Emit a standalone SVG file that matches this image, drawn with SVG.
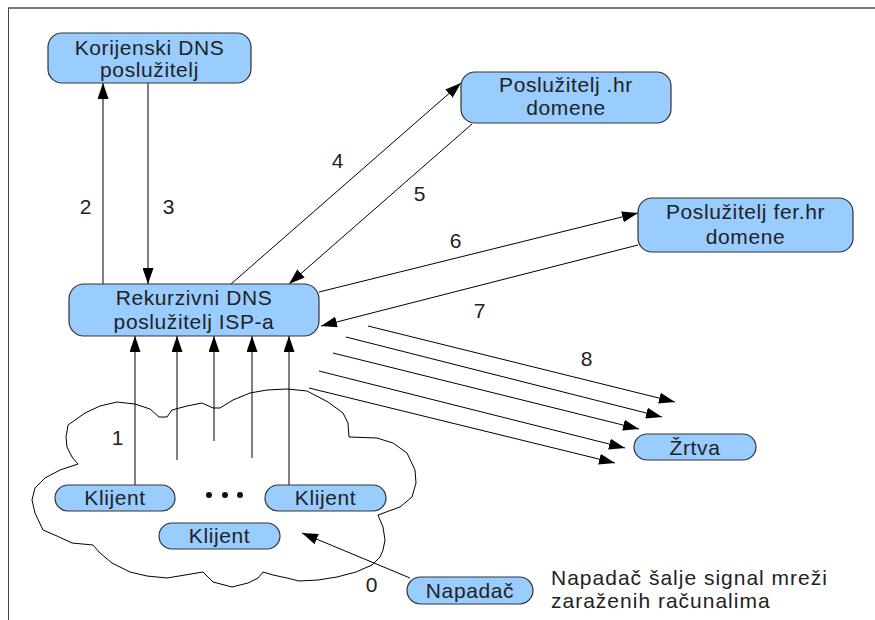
<svg xmlns="http://www.w3.org/2000/svg" width="875" height="620" viewBox="0 0 875 620">
  <style>
    .node { fill: #99ccff; stroke: #333333; stroke-width: 1.2; }
    .lbl { font-family: "Liberation Sans", Arial, sans-serif; font-size: 21px; fill: #222222; letter-spacing: 0.6px; }
    .mid { text-anchor: middle; }
    .edge { stroke: #000000; stroke-width: 1; fill: none; }
    .arr { marker-end: url(#head); }
  </style>
  <defs>
    <marker id="head" markerUnits="userSpaceOnUse" markerWidth="16" markerHeight="11" refX="16" refY="5.5" orient="auto">
      <path d="M0,0 L16,5.5 L0,11 Z" fill="#000000"/>
    </marker>
  </defs>

  <rect width="875" height="620" fill="#ffffff"/>
  <!-- page frame -->
  <rect x="8" y="7" width="867" height="2" fill="#7a7a7a"/>
  <line x1="8.5" y1="8" x2="8.5" y2="620" stroke="#444444" stroke-width="1"/>

  <!-- client network -->
  <g id="network">
    <path class="edge" stroke-linejoin="round" d="M68,425 L85,413 L100,406 L117,402 L135,404 L150,409 L159,417 L167,417 L172,410 L187,406 L202,403 L213,408 L220,408 L233,400 L250,393 L267,390 L287,389 L307,391 L328,402 L343,413 L348,423 L349,437 L377,438 L393,443 L407,453 L415,470 L416,483 L412,497 L400,507 L378,515 L383,527 L385,540 L383,550 L380,557 L372,565 L356,572 L337,577 L318,580 L299,581 L287,578 L273,575 L263,572 L258,578 L248,583 L232,587 L213,582 L203,572 L185,575 L167,578 L147,576 L130,572 L112,563 L100,553 L93,545 L72,543 L57,536 L43,530 L35,513 L32,500 L35,488 L45,478 L60,470 L78,464 L72,457 L67,447 L66,437 Z"/>
  </g>

  <g id="connectors">
    <!-- 2 / 3 -->
    <line class="edge arr" x1="103" y1="284" x2="103" y2="83"/>
    <line class="edge arr" x1="148" y1="83" x2="148" y2="284"/>
    <!-- 4 / 5 -->
    <line class="edge arr" x1="231" y1="284" x2="461" y2="83"/>
    <line class="edge arr" x1="472" y1="124" x2="289" y2="284"/>
    <!-- 6 / 7 -->
    <line class="edge arr" x1="319" y1="292" x2="638" y2="213"/>
    <line class="edge arr" x1="638" y1="245" x2="321" y2="326"/>
    <!-- 1: clients to resolver -->
    <line class="edge arr" x1="135" y1="485" x2="135" y2="336"/>
    <line class="edge arr" x1="177" y1="460" x2="177" y2="336"/>
    <line class="edge arr" x1="214" y1="441" x2="214" y2="336"/>
    <line class="edge arr" x1="252" y1="458" x2="252" y2="336"/>
    <line class="edge arr" x1="289" y1="485" x2="289" y2="336"/>
    <!-- 8: responses towards the victim -->
    <line class="edge arr" x1="368" y1="326" x2="675" y2="402"/>
    <line class="edge arr" x1="346" y1="337" x2="662" y2="417"/>
    <line class="edge arr" x1="333" y1="353" x2="639" y2="429"/>
    <line class="edge arr" x1="319" y1="371" x2="625" y2="448"/>
    <line class="edge arr" x1="309" y1="388" x2="615" y2="463"/>
    <!-- 0: attacker signal -->
    <line class="edge arr" x1="410" y1="578" x2="302" y2="533"/>
  </g>

  <g id="edge-labels" class="lbl mid">
    <text x="118" y="445">1</text>
    <text x="86" y="214">2</text>
    <text x="169" y="214">3</text>
    <text x="338" y="168">4</text>
    <text x="420" y="201">5</text>
    <text x="456" y="248">6</text>
    <text x="480" y="318">7</text>
    <text x="587" y="366">8</text>
    <text x="372" y="592">0</text>
  </g>

  <g id="root-dns">
    <rect class="node" x="48" y="33" width="203" height="50" rx="14"/>
    <text class="lbl mid" x="149.5" y="55">Korijenski DNS</text>
    <text class="lbl mid" x="149.5" y="77">poslužitelj</text>
  </g>

  <g id="hr-dns">
    <rect class="node" x="461" y="72" width="210" height="51" rx="14"/>
    <text class="lbl mid" x="566" y="92">Poslužitelj .hr</text>
    <text class="lbl mid" x="566" y="115">domene</text>
  </g>

  <g id="ferhr-dns">
    <rect class="node" x="638" y="198" width="215" height="54" rx="14"/>
    <text class="lbl mid" x="745.5" y="219">Poslužitelj fer.hr</text>
    <text class="lbl mid" x="745.5" y="244">domene</text>
  </g>

  <g id="isp-resolver">
    <rect class="node" x="69" y="284" width="250" height="52" rx="15"/>
    <text class="lbl mid" x="194" y="305">Rekurzivni DNS</text>
    <text class="lbl mid" x="194" y="329">poslužitelj ISP-a</text>
  </g>

  <g id="client-left">
    <rect class="node" x="55" y="485" width="120" height="26" rx="13"/>
    <text class="lbl mid" x="115" y="505">Klijent</text>
  </g>

  <g id="client-more">
    <circle cx="209" cy="495" r="3" fill="#111111"/>
    <circle cx="225" cy="495" r="3" fill="#111111"/>
    <circle cx="240" cy="495" r="3" fill="#111111"/>
  </g>

  <g id="client-right">
    <rect class="node" x="265" y="485" width="121" height="26" rx="13"/>
    <text class="lbl mid" x="325.5" y="505">Klijent</text>
  </g>

  <g id="client-bottom">
    <rect class="node" x="159" y="523" width="121" height="26" rx="13"/>
    <text class="lbl mid" x="219.5" y="543">Klijent</text>
  </g>

  <g id="victim">
    <rect class="node" x="634" y="434" width="122" height="26" rx="13"/>
    <text class="lbl mid" x="695" y="455">Žrtva</text>
  </g>

  <g id="attacker">
    <rect class="node" x="407" y="577" width="126" height="27" rx="13.5"/>
    <text class="lbl mid" x="470" y="598">Napadač</text>
  </g>

  <g id="note">
    <text class="lbl" x="551" y="585" style="letter-spacing:1px">Napadač šalje signal mreži</text>
    <text class="lbl" x="551" y="608" style="letter-spacing:1px">zaraženih računalima</text>
  </g>
</svg>
